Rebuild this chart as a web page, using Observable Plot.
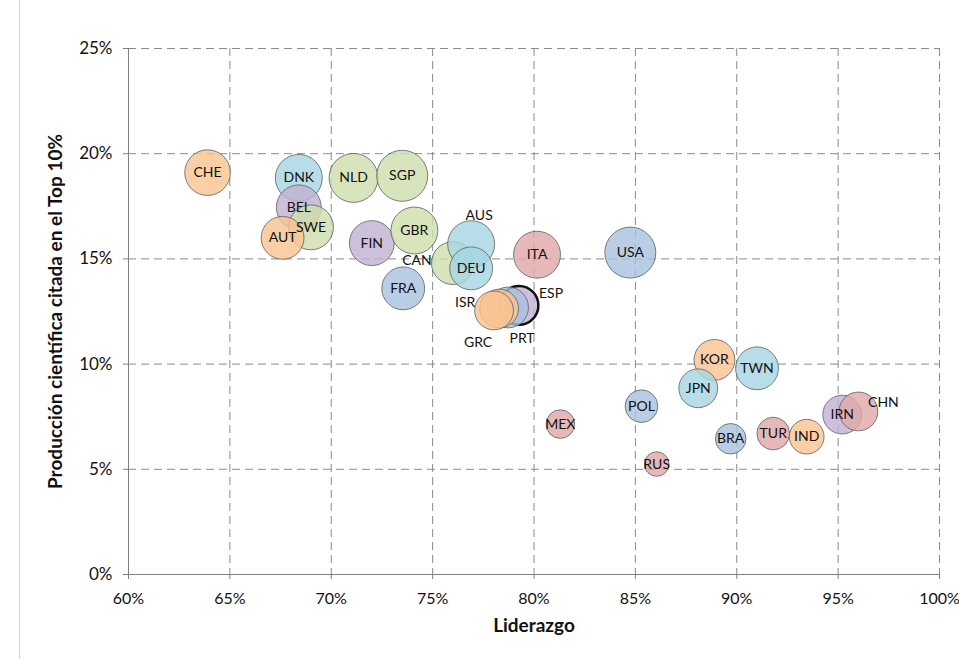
<!DOCTYPE html>
<html>
<head>
<meta charset="utf-8">
<script src="https://cdn.jsdelivr.net/npm/d3@7"></script>
<script src="https://cdn.jsdelivr.net/npm/@observablehq/plot@0.6"></script>
<style>
  html, body { margin: 0; padding: 0; background: #fff; }
  #wrap { position: relative; width: 959px; height: 659px; }
  #wrap svg { display: block; }
  #borde { position: absolute; left: 19px; top: 0; width: 1px; height: 659px; background: #d4d4d4; }
</style>
</head>
<body>
<div id="wrap"><div id="borde"></div></div>
<script>
// ---- Datos ----
const paises    = ["CHE","DNK","BEL","SWE","AUT","NLD","SGP","FIN","GBR","FRA","CAN","AUS","DEU","ITA","USA","ESP","PRT","ISR","GRC","KOR","JPN","POL","MEX","RUS","BRA","TWN","TUR","IND","IRN","CHN"];
const liderazgo = [63.9, 68.4, 68.4, 69.0, 67.6, 71.1, 73.5, 72.0, 74.1, 73.55, 76.0, 76.9, 76.9, 80.15, 84.75, 79.26, 78.72, 78.28, 78.03, 88.9, 88.1, 85.3, 81.3, 86.05, 89.7, 91.0, 91.8, 93.45, 95.2, 96.0];
const top10     = [19.1, 18.85, 17.45, 16.5, 16.0, 18.85, 18.95, 15.75, 16.35, 13.6, 14.8, 15.7, 14.55, 15.2, 15.3, 12.79, 12.69, 12.64, 12.55, 10.2, 8.85, 8.0, 7.15, 5.25, 6.45, 9.8, 6.7, 6.55, 7.6, 7.75];
const tamano    = [500, 529, 484, 484, 441, 576, 625, 484, 529, 441, 441, 529, 441, 529, 625, 361, 400, 361, 361, 400, 361, 256, 196, 144, 225, 441, 256, 289, 361, 361];
const grupo     = ["naranja","celeste","lila","verde","naranja","verde","verde","lila","verde","azul","verde","celeste","celeste","rosa","azul","lila","azul","naranja","naranja","naranja","celeste","azul","rosa","rosa","azul","celeste","rosa","naranja","lila","rosa"];
const etiqueta  = ["centro","centro","centro","centro","centro","centro","centro","centro","centro","centro","izquierda","arriba","centro","centro","centro","derecha","abajo","izquierda2","abajo-izq","centro","centro","centro","centro","centro","centro","centro","centro","centro","centro","arriba-der"];
const destacado = "ESP";
const xTicks = [60, 65, 70, 75, 80, 85, 90, 95, 100];
const yTicks = [0, 5, 10, 15, 20, 25];
const tituloX = "Liderazgo";
const tituloY = "Producción científica citada en el Top 10%";

// ---- Estilo ----
const grupos  = ["naranja","celeste","lila","verde","rosa","azul"];
const colores = ["#FAC390","#A5D6E2","#BFB0D1","#CDDDAB","#E0A8A6","#A8C1DF"];
const desplaz = {
  "centro": [0, 0], "izquierda": [-36, -3], "arriba": [8, -29], "derecha": [32, -12],
  "abajo": [14, 31], "izquierda2": [-34, -6], "abajo-izq": [-16, 32], "arriba-der": [25, -9]
};

const data = paises.map((p, i) => ({pais: p, lid: liderazgo[i], top: top10[i], tam: tamano[i], grupo: grupo[i], pos: etiqueta[i]}));
const iDest = data.findIndex(d => d.pais === destacado);

const font = "Lato, 'Open Sans', sans-serif";
const labelMarks = Object.entries(desplaz).map(([k, [dx, dy]]) =>
  Plot.text(data.filter(d => d.pos === k), {x: "lid", y: "top", text: "pais", dx, dy, fontSize: 14, fill: "#111", fontFamily: font})
);
const dotOpts = {x: "lid", y: "top", r: "tam", fill: "grupo", fillOpacity: 0.8, stroke: "#666", strokeOpacity: 0.85, strokeWidth: 1, sort: null};

const chart = Plot.plot({
  width: 959, height: 659,
  marginLeft: 128, marginRight: 20, marginTop: 48, marginBottom: 85,
  style: {fontFamily: font, background: "transparent"},
  x: {domain: [60, 100]},
  y: {domain: [0, 25]},
  r: {type: "sqrt", domain: [0, 625], range: [0, 25.5]},
  color: {domain: grupos, range: colores},
  marks: [
    Plot.gridX(xTicks.filter(d => d > 60), {stroke: "#8a8a8a", strokeOpacity: 1, strokeDasharray: "8,5"}),
    Plot.gridY(yTicks.filter(d => d > 0), {stroke: "#8a8a8a", strokeOpacity: 1, strokeDasharray: "8,5"}),
    Plot.ruleX([60], {stroke: "#7f7f7f"}),
    Plot.ruleY([0], {stroke: "#7f7f7f"}),
    Plot.axisX(xTicks, {tickSize: 5, tickPadding: 13, tickFormat: d => d + "%", fontSize: 16, stroke: "#7f7f7f", fill: "#111", label: null}),
    Plot.axisY(yTicks, {tickSize: 5, tickPadding: 11, tickFormat: d => d + "%", fontSize: 17, stroke: "#7f7f7f", fill: "#111", label: null}),
    Plot.dot(data.slice(0, iDest), dotOpts),
    Plot.dot(data.slice(iDest, iDest + 1), {...dotOpts, stroke: "#111", strokeOpacity: 1, strokeWidth: 2.5}),
    Plot.dot(data.slice(iDest + 1), dotOpts),
    ...labelMarks,
    Plot.text([tituloX], {frameAnchor: "bottom", dy: 57, fontSize: 19, fontWeight: "bold", fill: "#111", fontFamily: font}),
    Plot.text([tituloY], {frameAnchor: "left", textAnchor: "middle", rotate: -90, dx: -73, dy: 0, fontSize: 19, fontWeight: "bold", fill: "#111", fontFamily: font})
  ]
});
document.getElementById("wrap").appendChild(chart);
</script>
</body>
</html>
